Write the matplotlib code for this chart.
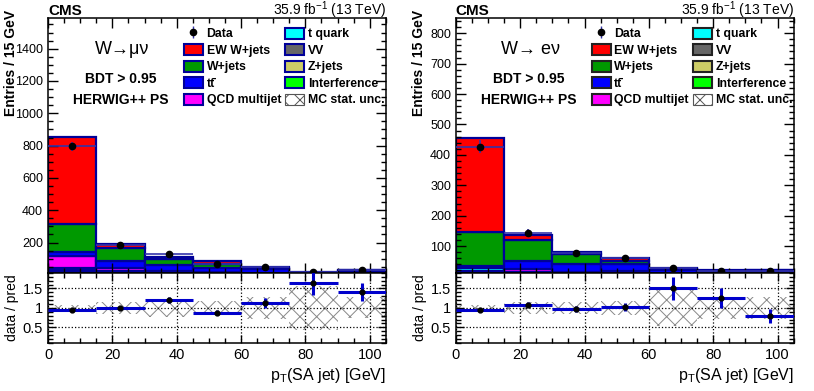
import numpy as np
import matplotlib
matplotlib.use("Agg")
import matplotlib.pyplot as plt
from matplotlib.patches import Patch
from matplotlib.lines import Line2D
from matplotlib.ticker import MultipleLocator

plt.rcParams['font.family'] = ['Liberation Sans', 'DejaVu Sans']
plt.rcParams['mathtext.fontset'] = 'custom'
plt.rcParams['mathtext.rm'] = 'Liberation Sans'
plt.rcParams['mathtext.it'] = 'Liberation Sans:italic'
plt.rcParams['mathtext.bf'] = 'Liberation Sans:bold'
plt.rcParams['hatch.linewidth'] = 0.7

# bins of pT(SA jet)
edges = np.array([0, 15, 30, 45, 60, 75, 90, 105])

# ---- W -> mu nu ----
mu_interf = [8, 3, 2, 2, 2, 1, 1]
mu_zjets = [12, 6, 5, 4, 3, 1, 2]
mu_vv = [8, 5, 4, 4, 3, 1, 2]
mu_tq = [15, 8, 7, 6, 4, 2, 3]
mu_qcd = [72, 21, 4, 2, 1, 0.5, 1]
mu_tt = [25, 41, 40, 24, 22, 6, 13]
mu_wjets = [174, 83, 34, 28, 8, 3, 6]
mu_ew = [537, 25, 15, 14, 5, 1.5, 4]
mu_data = [795, 187, 132, 70, 47, 20, 27]
mu_data_err = [28, 14, 11.5, 8.4, 6.9, 4.5, 5.2]
mu_ratio = [0.95, 1.00, 1.20, 0.88, 1.13, 1.63, 1.41]
mu_ratio_err = [0.03, 0.04, 0.08, 0.06, 0.13, 0.31, 0.24]
mu_band = [0.07, 0.15, 0.23, 0.19, 0.28, 0.56, 0.27]

# ---- W -> e nu ----
e_interf = [4, 2, 2, 1, 1, 1, 1]
e_zjets = [8, 4, 3, 3, 2, 1, 1]
e_vv = [7, 3, 3, 2, 1, 1, 2]
e_tq = [10, 5, 5, 4, 3, 3, 2]
e_qcd = [2, 10, 2, 7, 1, 1, 1]
e_tt = [3, 26, 27, 25, 12, 8, 8]
e_wjets = [113, 70, 32, 10, 5, 3, 5]
e_ew = [307, 16, 7, 9, 4, 3, 3]
e_data = [427, 144, 78, 60, 27, 19, 19]
e_data_err = [21, 12, 9, 8, 5.2, 4.4, 4.4]
e_ratio = [0.95, 1.08, 0.97, 1.03, 1.50, 1.25, 0.79]
e_ratio_err = [0.03, 0.06, 0.08, 0.10, 0.30, 0.25, 0.18]
e_band = [0.07, 0.15, 0.16, 0.19, 0.47, 0.28, 0.29]

names = ['EW W+jets', 'W+jets', 'tt\u0304', 'QCD multijet',
         't quark', 'VV', 'Z+jets', 'Interference']
colors = ['#ff0000', '#009900', '#0000ff', '#ff00ff',
          '#00ffff', '#666666', '#cccc66', '#00ff00']
navy = '#000099'

fig = plt.figure(figsize=(8.14, 3.91), dpi=100)


def style_axis(ax, ymajor, yminor):
    ax.xaxis.set_major_locator(MultipleLocator(20))
    ax.xaxis.set_minor_locator(MultipleLocator(5))
    ax.yaxis.set_major_locator(MultipleLocator(ymajor))
    ax.yaxis.set_minor_locator(MultipleLocator(yminor))
    ax.tick_params(which='both', direction='in', top=True, right=True, width=1.0)
    ax.tick_params(which='major', length=7)
    ax.tick_params(which='minor', length=3.5)
    for s in ax.spines.values():
        s.set_linewidth(1.1)


def draw_panel(x0, comps, data, data_err, ratio, ratio_err, band,
               ymax, ymajor, yminor, channel, legend_edge):
    ax = fig.add_axes([x0, 0.302, 0.415, 0.652])
    rx = fig.add_axes([x0, 0.123, 0.415, 0.179], sharex=ax)

    centers = 0.5 * (edges[:-1] + edges[1:])
    widths = np.diff(edges)

    # stack: bottom = last in legend
    bottom = np.zeros(len(centers))
    for vals, c in zip(comps[::-1], colors[::-1]):
        ax.bar(edges[:-1], vals, width=widths, align='edge', bottom=bottom,
               color=c, edgecolor=navy, linewidth=1.6)
        bottom = bottom + np.array(vals)

    ax.errorbar(centers, data, xerr=widths / 2, yerr=data_err, fmt='o',
                color='black', ms=4.5, ecolor='#3333aa', elinewidth=1.2,
                capsize=0, zorder=5)

    ax.set_xlim(0, 105)
    ax.set_ylim(12, ymax)
    style_axis(ax, ymajor, yminor)
    ax.tick_params(labelbottom=False, labelsize=9)
    ax.set_ylabel('Entries / 15 GeV', fontsize=10, fontweight='bold', loc='top')
    ax.yaxis.set_label_coords(-0.088, 1.03)

    ax.text(0.22, 0.875, channel, transform=ax.transAxes, fontsize=13,
            ha='center', va='center')
    ax.text(0.215, 0.76, 'BDT > 0.95', transform=ax.transAxes, fontsize=10,
            fontweight='bold', ha='center', va='center')
    ax.text(0.215, 0.68, 'HERWIG++ PS', transform=ax.transAxes, fontsize=10,
            fontweight='bold', ha='center', va='center')

    handles = [(Line2D([], [], marker='|', color='#3333aa', ms=9, ls='None'),
                Line2D([], [], marker='o', color='black', ms=4.5, ls='None'))]
    for c in colors:
        handles.append(Patch(facecolor=c, edgecolor=legend_edge, linewidth=1.5))
    handles.append(Patch(facecolor='white', edgecolor='#555555', hatch='xx',
                         linewidth=0.8))
    labels = ['Data'] + names + ['MC stat. unc.']
    leg = ax.legend(handles, labels, loc='upper left', bbox_to_anchor=(0.395, 0.972),
                    ncol=2, frameon=False, fontsize=8.8, handlelength=1.55,
                    handleheight=1.05, handletextpad=0.3, labelspacing=0.3,
                    columnspacing=0.35, borderaxespad=0, borderpad=0.2)
    for t in leg.get_texts():
        t.set_fontweight('bold')

    # ratio
    for i in range(len(centers)):
        rx.fill_between([edges[i], edges[i + 1]], 1 - band[i], 1 + band[i],
                        facecolor='none', edgecolor='#888888', hatch='xx',
                        linewidth=0)
    rx.errorbar(centers, ratio, xerr=widths / 2, yerr=ratio_err, fmt='o',
                color='black', ms=3.5, ecolor='#0000cc', elinewidth=2.2,
                capsize=0, zorder=5)
    rx.set_ylim(0.1, 1.9)
    rx.set_xlim(0, 105)
    style_axis(rx, 0.5, 0.1)
    rx.tick_params(which='major', length=6)
    rx.tick_params(labelsize=10.5)
    rx.set_yticks([0.5, 1, 1.5])
    rx.set_yticklabels(['0.5', '1', '1.5'])
    rx.grid(True, which='major', linestyle=':', color='black', linewidth=0.9)
    rx.set_ylabel('data / pred', fontsize=10)
    rx.yaxis.set_label_coords(-0.085, 0.5)
    rx.set_xlabel(r'p$_{\mathrm{T}}$(SA jet) [GeV]', fontsize=11.5, loc='right',
                  labelpad=3)
    return ax


mu_comps = [mu_ew, mu_wjets, mu_tt, mu_qcd, mu_tq, mu_vv, mu_zjets, mu_interf]
e_comps = [e_ew, e_wjets, e_tt, e_qcd, e_tq, e_vv, e_zjets, e_interf]

axl = draw_panel(0.059, mu_comps, mu_data, mu_data_err, mu_ratio, mu_ratio_err,
                 mu_band, 1590, 200, 50, 'W→μν', navy)
axr = draw_panel(0.560, e_comps, e_data, e_data_err, e_ratio, e_ratio_err,
                 e_band, 850, 100, 20, 'W→ eν', '#222222')

for ax in (axl, axr):
    ax.text(0.0, 1.012, 'CMS', transform=ax.transAxes, fontsize=11,
            fontweight='bold', ha='left', va='baseline')
    ax.text(1.0, 1.012, r'35.9 fb$^{-1}$ (13 TeV)', transform=ax.transAxes,
            fontsize=10, ha='right', va='baseline')

fig.savefig('out.png', dpi=100)
